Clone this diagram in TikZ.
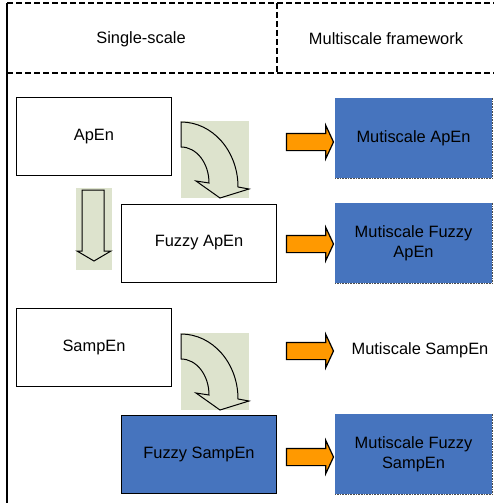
\documentclass[tikz,border=0pt]{standalone}
\usepackage{fontspec}
\setmainfont{Liberation Sans}
\usetikzlibrary{shapes.arrows,positioning}
\definecolor{boxblue}{RGB}{70,116,190}
\definecolor{arroworange}{RGB}{255,153,0}
\definecolor{sage}{RGB}{221,227,205}

\begin{document}
\begin{tikzpicture}
             %% setup
             [
                 x=1pt, y=-1pt,
                 every node/.style={font=\fontsize{16.4}{20}\selectfont, align=center},
                 plainbox/.style={rectangle, draw=black, fill=white, line width=1pt, minimum width=155pt, minimum height=78pt},
                 filledbox/.style={plainbox, fill=boxblue},
                 multibox/.style={rectangle, fill=boxblue, minimum width=157pt, minimum height=80pt},
                 fatarrow/.style={single arrow, draw=black, fill=arroworange, line width=1.2pt, minimum height=47pt, inner xsep=0pt, inner ysep=8pt, single arrow head extend=8pt, single arrow tip angle=130, font=\tiny},
                 framedash/.style={line width=1.2pt, dash pattern=on 6pt off 3pt},
             ]
                 \useasboundingbox (0,0) rectangle (494,503);

                 %% Frame
                 \draw[line width=1.2pt] (7,3) -- (7,503);
                 \draw[framedash] (7,3) -- (494,3);
                 \draw[framedash] (7,73) -- (494,73);
                 \draw[framedash] (277,3) -- (277,73);

                 %% Header
                 \node (single) at (141,39) {Single-scale};
                 \node (multi) at (386,39) {Multiscale framework};

                 %% Single-scale nodes
                 \node [plainbox] (apen) at (94,136.5) {ApEn};
                 \node [plainbox] (fapen) at (199,243) {Fuzzy ApEn};
                 \node [plainbox] (sampen) at (94,347.5) {SampEn};
                 \node [filledbox] (fsampen) at (199,454.5) {Fuzzy SampEn};

                 %% Multiscale nodes
                 \node [multibox] (mapen) at (413.5,138) {Mutiscale ApEn};
                 \node [multibox] (mfapen) at (413.5,243) {Mutiscale Fuzzy\\ApEn};
                 \node (msampen) at (420,350) {Mutiscale SampEn};
                 \node [multibox] (mfsampen) at (413.5,454) {Mutiscale Fuzzy\\SampEn};
                 \foreach \n in {mapen,mfapen,mfsampen}
                     \draw[densely dotted, black!70, line width=0.6pt] (\n.north east) -- (\n.south east) -- (\n.south west);

                 %% Orange arrows
                 \foreach \y/\i in {142/1,244/2,351/3,457/4}
                     \node [fatarrow] (arr\i) at (308,\y) {};

                 %% Curved arrows
                 \foreach \y in {121,333}
                 {
                     \begin{scope}[shift={(181,\y)}]
                         \fill[sage] (0,0) rectangle (68,77);
                         \draw[line width=1pt, line join=miter] (0,1) .. controls (31.5,1) and (57,30) .. (57,66)
                             -- (68,68) -- (39,77) -- (15,60) -- (28,62) .. controls (28,42) and (15.5,26) .. (0,26) -- cycle;
                     \end{scope}
                 }

                 %% Down arrow
                 \begin{scope}[shift={(76,188)}]
                     \fill[sage] (0,0) rectangle (36,82);
                     \draw[line width=1pt, line join=miter] (6,2) -- (28,2) -- (28,63) -- (35,63) -- (18,73) -- (1,63) -- (6,63) -- cycle;
                 \end{scope}

\end{tikzpicture}
\end{document}
